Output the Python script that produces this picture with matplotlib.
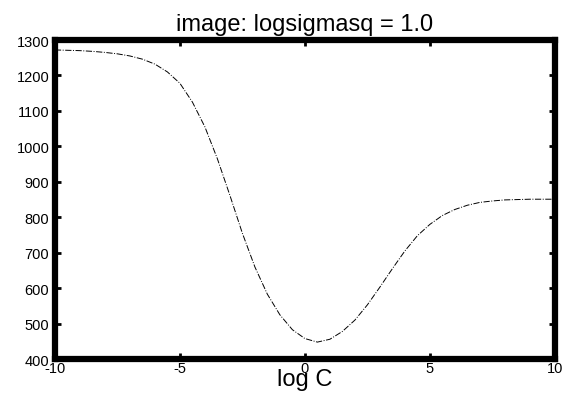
import matplotlib
matplotlib.use("Agg")
import matplotlib.pyplot as plt

log_c = [-10, -9.5, -9, -8.5, -8, -7.5, -7, -6.5, -6, -5.5, -5, -4.5, -4, -3.5,
         -3, -2.5, -2, -1.5, -1, -0.5, 0, 0.5, 1, 1.5, 2, 2.5, 3, 3.5, 4, 4.5,
         5, 5.5, 6, 6.5, 7, 7.5, 8, 8.5, 9, 9.5, 10]
values = [1272, 1271, 1270, 1268, 1265, 1261, 1255, 1246, 1232, 1210, 1178,
          1125, 1055, 965, 862, 755, 660, 583, 525, 483, 458, 448, 456, 478,
          510, 553, 603, 655, 705, 748, 780, 805, 822, 834, 842, 846, 849,
          850, 851, 851, 851]
xticks = [-10, -5, 0, 5, 10]
yticks = [400, 500, 600, 700, 800, 900, 1000, 1100, 1200, 1300]

plt.rcParams['font.family'] = ['Liberation Sans', 'DejaVu Sans']
plt.rcParams['axes.unicode_minus'] = False

fig = plt.figure(figsize=(5.72, 4.06), dpi=100)
ax = fig.add_axes([0.096, 0.113, 0.874, 0.786])
ax.plot(log_c, values, color="black", linestyle="-.", linewidth=0.7)
ax.set_xlim(-10, 10)
ax.set_ylim(400, 1300)
ax.set_xticks(xticks)
ax.set_yticks(yticks)
for s in ax.spines.values():
    s.set_linewidth(4.5)
ax.tick_params(direction="in", length=4, width=2, labelsize=10.5,
               top=True, right=True)
ax.tick_params(axis="y", pad=4)
ax.tick_params(axis="x", pad=1)
ax.set_title("image: logsigmasq = 1.0", fontsize=17, pad=7)
ax.set_xlabel("log C", fontsize=17, labelpad=-5)
fig.savefig("out.png", dpi=100)
